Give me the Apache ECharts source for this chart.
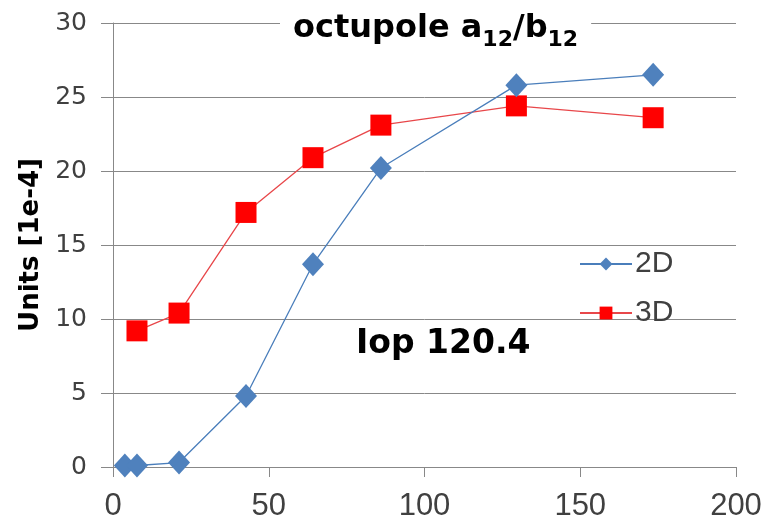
<!DOCTYPE html>
<html>
<head>
<meta charset="utf-8">
<script src="https://cdn.jsdelivr.net/npm/echarts@6/dist/echarts.min.js"></script>
<style>
html,body{margin:0;padding:0;background:#fff;}
#chart{width:769px;height:519px;}
</style>
</head>
<body>
<div id="chart"></div>
<script>
// Current sweep positions and multipole values (units of 1e-4)
const x2D = [3.8, 7.7, 21.2, 42.7, 64.2, 86, 129.5, 173.4];
const y2D = [0.1, 0.1, 0.3, 4.8, 13.7, 20.2, 25.8, 26.5];
const x3D = [7.7, 21.2, 42.7, 64.2, 86, 129.5, 173.4];
const y3D = [9.2, 10.4, 17.2, 20.9, 23.1, 24.4, 23.6];
const seriesNames = ['2D', '3D'];
const xTicks = [0, 50, 100, 150, 200];
const yTicks = [0, 5, 10, 15, 20, 25, 30];

const pairs = (xs, ys) => xs.map((x, i) => [x, ys[i]]);

const chart = echarts.init(document.getElementById('chart'));
const sansFont = '"Liberation Sans", Arial, sans-serif';
const wideFont = '"DejaVu Sans", Verdana, sans-serif';

chart.setOption({
  backgroundColor: '#ffffff',
  animation: false,
  grid: { left: 113, right: 33, top: 23, bottom: 52, containLabel: false, outerBoundsMode: 'none' },
  title: {
    text: '{t|octupole a}{s|12}{t|/b}{s|12}',
    left: 280,
    top: 7,
    backgroundColor: '#ffffff',
    padding: [0, 13, 0, 13],
    textStyle: {
      rich: {
        t: { fontFamily: wideFont, fontWeight: 'bold', fontSize: 32, color: '#000', lineHeight: 44, verticalAlign: 'middle' },
        s: { fontFamily: wideFont, fontWeight: 'bold', fontSize: 22, color: '#000', lineHeight: 14, verticalAlign: 'bottom' }
      }
    }
  },
  legend: {
    orient: 'vertical',
    left: 579,
    top: 249,
    itemWidth: 52,
    itemHeight: 16,
    itemGap: 19,
    padding: 0,
    data: seriesNames,
    textStyle: { fontFamily: sansFont, fontSize: 30, lineHeight: 30, color: '#404040', padding: [0, 0, 0, -2] }
  },
  graphic: [{
    type: 'text',
    left: 340,
    top: 328,
    style: {
      text: 'Iop 120.4',
      font: 'bold 33px ' + wideFont,
      fill: '#000',
      backgroundColor: '#ffffff',
      padding: [0, 16, 2, 16]
    },
    z: 10
  }],
  xAxis: {
    type: 'value',
    min: xTicks[0],
    max: xTicks[xTicks.length - 1],
    interval: 50,
    axisLine: { show: true, lineStyle: { color: '#888', width: 1 } },
    axisTick: { show: true, length: 10, lineStyle: { color: '#888' } },
    splitLine: { show: false },
    axisLabel: { fontFamily: sansFont, fontSize: 31, color: '#404040', margin: 24 }
  },
  yAxis: {
    type: 'value',
    min: yTicks[0],
    max: yTicks[yTicks.length - 1],
    interval: 5,
    name: 'Units [1e-4]',
    nameLocation: 'middle',
    nameGap: 68,
    nameTextStyle: { fontFamily: wideFont, fontWeight: 'bold', fontSize: 26, color: '#000' },
    axisLine: { show: true, lineStyle: { color: '#888', width: 1 } },
    axisTick: { show: true, length: 12, lineStyle: { color: '#888' } },
    splitLine: { show: true, lineStyle: { color: '#888', width: 1 } },
    axisLabel: { fontFamily: wideFont, fontSize: 25, color: '#404040', margin: 26 }
  },
  series: [
    {
      name: seriesNames[0],
      type: 'line',
      data: pairs(x2D, y2D),
      symbol: 'diamond',
      symbolSize: [22, 24],
      lineStyle: { color: '#4A7EBB', width: 1.3 },
      itemStyle: { color: '#4F81BD' },
      z: 3
    },
    {
      name: seriesNames[1],
      type: 'line',
      data: pairs(x3D, y3D),
      symbol: 'rect',
      symbolSize: 21,
      lineStyle: { color: '#E8474A', width: 1.3 },
      itemStyle: { color: '#FF0000' },
      z: 2
    }
  ]
});
</script>
</body>
</html>
